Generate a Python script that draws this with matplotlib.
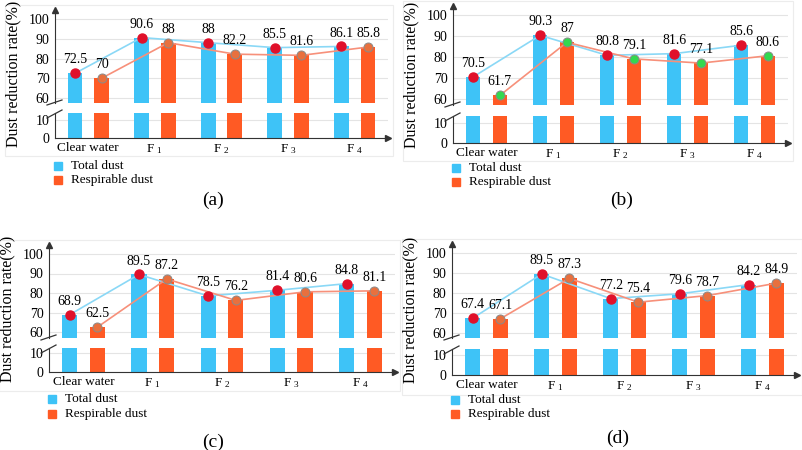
import matplotlib
matplotlib.use("Agg")
import matplotlib.pyplot as plt
from matplotlib.lines import Line2D
from matplotlib.patches import Rectangle

plt.rcParams['font.family'] = ['Liberation Serif', 'DejaVu Serif']
plt.rcParams['mathtext.fontset'] = 'custom'
plt.rcParams['mathtext.rm'] = 'Liberation Serif'
plt.rcParams['mathtext.it'] = 'Liberation Serif'

categories = ['Clear water', 'F $_{\\mathrm{1}}$', 'F $_{\\mathrm{2}}$',
              'F $_{\\mathrm{3}}$', 'F $_{\\mathrm{4}}$']
panel_names = ['(a)', '(b)', '(c)', '(d)']
total_a = [72.5, 90.6, 88, 85.5, 86.1]
resp_a = [70, 88, 82.2, 81.6, 85.8]
total_b = [70.5, 90.3, 80.8, 81.6, 85.6]
resp_b = [61.7, 87, 79.1, 77.1, 80.6]
total_c = [68.9, 89.5, 78.5, 81.4, 84.8]
resp_c = [62.5, 87.2, 76.2, 80.6, 81.1]
total_d = [67.4, 89.5, 77.2, 79.6, 84.2]
resp_d = [67.1, 87.3, 75.4, 78.7, 84.9]

BLUE = '#3ec3f7'
ORANGE = '#ff5a24'
BLUE_LINE = '#8ad8f6'
ORANGE_LINE = '#f7907a'
RED = '#e0102a'
AXC = '#333333'

W, H = 803, 450
fig = plt.figure(figsize=(8.03, 4.5), dpi=100)


def fx(px):
    return px / W


def fy(py):
    return 1 - py / H


# pixel layout of each panel
layouts = [
    dict(x0=55, x1=388, y100=19, y60=98, ub=103, lt=113, y10=120, y0=138,
         xl=148, leg=(166, 180), lab=(213, 200), resp_mc='#e8703e'),
    dict(x0=453, x1=788, y100=15, y60=99, ub=105, lt=116, y10=123, y0=143,
         xl=153, leg=(168, 182), lab=(622, 200), resp_mc='#33d84f'),
    dict(x0=49, x1=395, y100=254, y60=332, ub=338, lt=348, y10=353, y0=372,
         xl=383, leg=(399, 414), lab=(213, 442), resp_mc='#e8703e'),
    dict(x0=452, x1=797, y100=253, y60=333, ub=338, lt=349, y10=355, y0=375,
         xl=387, leg=(400, 414), lab=(618, 438), resp_mc='#e8703e'),
]
totals = [total_a, total_b, total_c, total_d]
resps = [resp_a, resp_b, resp_c, resp_d]


def draw_panel(L, total, resp, name):
    x0, x1 = L['x0'], L['x1']
    ppu = (L['y60'] - L['y100']) / 40.0
    top_px = L['y100'] - 9
    up_lo = 60 - (L['ub'] - L['y60']) / ppu
    up_hi = 100 + (L['y100'] - top_px) / ppu
    ax_u = fig.add_axes([fx(x0), fy(L['ub']), fx(x1 - x0), (L['ub'] - top_px) / H])
    ppl = (L['y0'] - L['y10']) / 10.0
    lo_hi = (L['y0'] - L['lt']) / ppl
    ax_l = fig.add_axes([fx(x0), fy(L['y0']), fx(x1 - x0), (L['y0'] - L['lt']) / H])

    # light frame around the chart
    fig.add_artist(Rectangle((fx(x0 - 50), fy(L['xl'] + 8)), fx(x1 - x0 + 55),
                             (L['xl'] + 8 - (L['y100'] - 14)) / H,
                             transform=fig.transFigure, fill=False,
                             edgecolor='#ececec', lw=0.8))

    xs = list(range(len(categories)))
    xb = [x - 0.2 for x in xs]
    xr = [x + 0.2 for x in xs]
    for ax in (ax_u, ax_l):
        ax.bar(xb, total, width=0.22, color=BLUE, zorder=2)
        ax.bar(xr, resp, width=0.22, color=ORANGE, zorder=2)
        ax.set_xlim(-0.5, 4.5)
        ax.set_facecolor('none')
        for s in ('top', 'right'):
            ax.spines[s].set_visible(False)
        ax.spines['left'].set_color(AXC)
        ax.spines['bottom'].set_color(AXC)
        ax.tick_params(axis='y', length=0, labelsize=10, pad=4)
        ax.tick_params(axis='x', length=0)
        ax.yaxis.grid(True, color='#e4e4e4', lw=0.8, zorder=0)

    ax_u.set_ylim(up_lo, up_hi)
    ax_u.set_yticks([60, 70, 80, 90, 100])
    ax_u.spines['bottom'].set_visible(False)
    ax_u.set_xticks([])
    ax_u.plot(xb, total, color=BLUE_LINE, lw=1.2, zorder=3)
    ax_u.plot(xr, resp, color=ORANGE_LINE, lw=1.2, zorder=3)
    ax_u.plot(xb, total, 'o', color=RED, ms=6.5, zorder=4)
    ax_u.plot(xr, resp, 'o', color=L['resp_mc'], mec='#8a8a8a', mew=0.7,
              ms=6.5, zorder=4)
    for x, v in zip(xb, total):
        ax_u.annotate(f'{v:g}', (x, v), xytext=(0, 5), textcoords='offset points',
                      ha='center', va='bottom', fontsize=10)
    for x, v in zip(xr, resp):
        ax_u.annotate(f'{v:g}', (x, v), xytext=(0, 5), textcoords='offset points',
                      ha='center', va='bottom', fontsize=10)
    ax_u.plot([0], [1], marker='^', color=AXC, ms=4, transform=ax_u.transAxes,
              clip_on=False)

    ax_l.set_ylim(0, lo_hi)
    ax_l.set_yticks([0, 10])
    ax_l.set_xticks(xs)
    ax_l.set_xticklabels(categories, fontsize=9.5)
    ax_l.tick_params(axis='x', pad=3)
    ax_l.plot([1], [0], marker='>', color=AXC, ms=4, transform=ax_l.transAxes,
              clip_on=False)

    # break marks
    for (yy1, yy2) in ((L['ub'] + 2, L['ub'] - 3), (L['lt'] + 5, L['lt'] - 3)):
        fig.add_artist(Line2D([fx(x0 - 8), fx(x0 + 7)], [fy(yy1), fy(yy2)],
                              transform=fig.transFigure, color=AXC, lw=0.9))

    fig.text(fx(x0 - 42), fy((top_px + L['y0']) / 2), 'Dust reduction rate(%)',
             rotation=90, ha='center', va='center', fontsize=11.5)

    # legend
    for yy, col, txt in ((L['leg'][0], BLUE, 'Total dust'),
                         (L['leg'][1], ORANGE, 'Respirable dust')):
        fig.add_artist(Rectangle((fx(x0 - 1), fy(yy + 4)), fx(8), 8 / H,
                                 transform=fig.transFigure, color=col))
        fig.text(fx(x0 + 16), fy(yy), txt, ha='left', va='center', fontsize=9.5)

    fig.text(fx(L['lab'][0]), fy(L['lab'][1]), name, ha='center', va='center',
             fontsize=14)


for L, t, r, n in zip(layouts, totals, resps, panel_names):
    draw_panel(L, t, r, n)

fig.savefig('out.png', dpi=100)
